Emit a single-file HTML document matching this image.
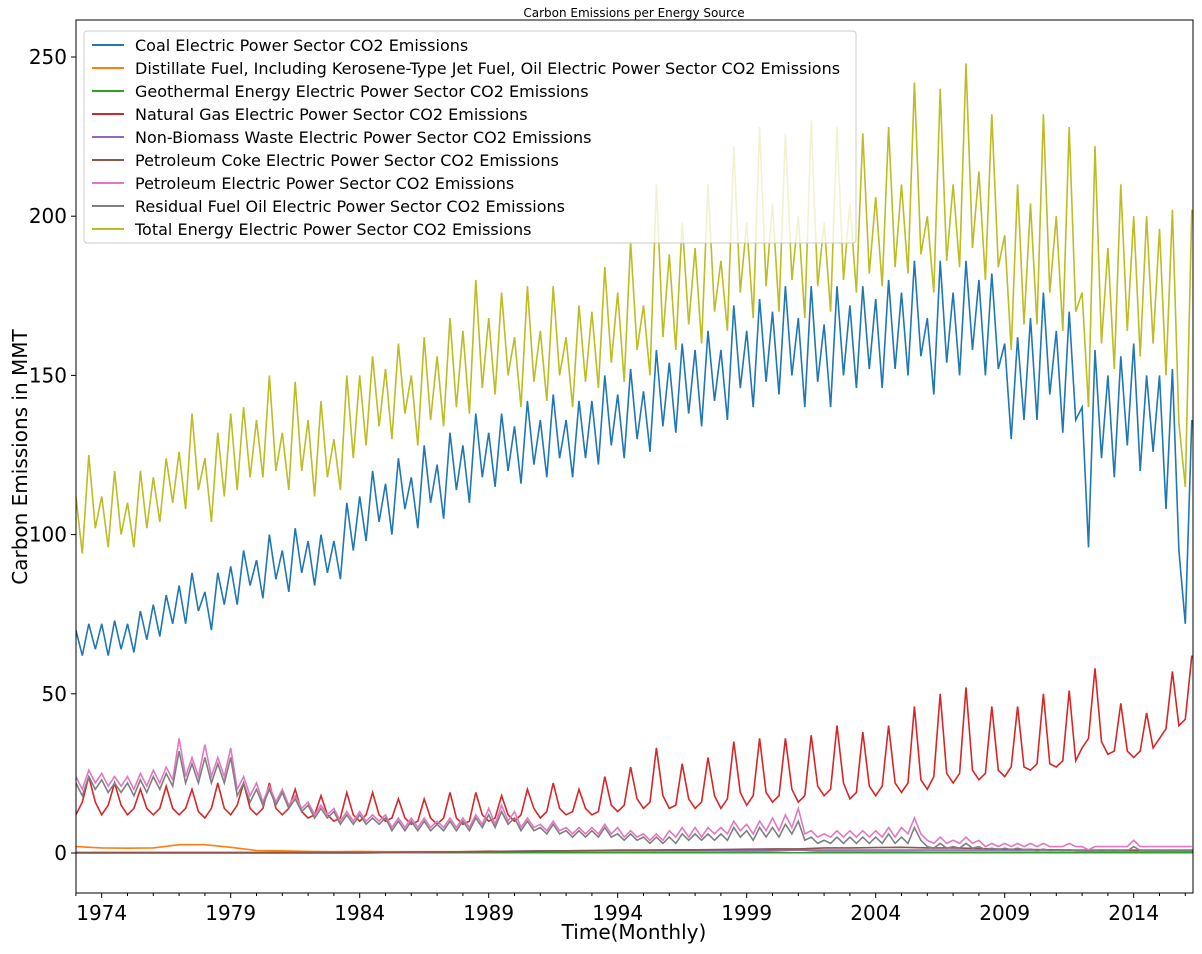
<!DOCTYPE html>
<html><head><meta charset="utf-8"><style>
body{margin:0;background:#fff;}
svg text{font-family:"DejaVu Sans","Liberation Sans",sans-serif;}
</style></head><body>
<svg id="chart" width="1202" height="949" xmlns="http://www.w3.org/2000/svg">
<defs><clipPath id="clip"><rect x="76" y="20" width="1117" height="873"/></clipPath></defs>
<rect width="1202" height="949" fill="#fff"/>
<text x="634" y="17" font-size="12" text-anchor="middle">Carbon Emissions per Energy Source</text>
<g id="series" clip-path="url(#clip)"></g>
<rect x="76" y="20" width="1117" height="873" fill="none" stroke="#000" stroke-width="1"/>
<g id="axes"></g>
<text x="634" y="939" font-size="20" text-anchor="middle">Time(Monthly)</text>
<text transform="translate(27,457) rotate(-90)" font-size="20" text-anchor="middle">Carbon Emissions in MMT</text>
<g id="legend"></g>
</svg>
<script>
// quarterly samples [Jan, Apr, Jul, Oct] per year starting 1973
const startYear = 1973;
const coal = [
70,62,72,64, 72,62,73,64, 72,63,76,67, 78,68,81,72, 84,72,88,76, 82,70,88,78, 90,78,95,84, 92,80,100,86,
95,82,102,88, 98,84,100,88, 98,86,110,95, 112,98,120,104, 116,100,124,108, 118,102,128,110, 122,105,132,114,
128,110,138,118, 132,115,138,120, 134,116,142,122, 136,118,144,124, 136,118,142,124, 142,122,150,128,
144,124,152,130, 145,126,158,134, 154,132,160,138, 158,134,164,142, 158,136,172,146, 164,140,174,148,
170,144,178,150, 168,140,178,148, 166,140,178,150, 172,146,178,152, 174,146,180,152, 176,150,186,156,
168,144,186,154, 176,150,186,158, 180,150,182,152, 160,130,162,136, 168,136,176,144, 164,132,170,136,
140,96,158,124, 150,118,156,128, 160,120,150,126, 150,108,152,95, 72,136];
const total = [
112,94,125,102, 112,96,120,100, 110,96,120,102, 118,104,124,110, 126,108,138,114, 124,104,132,112,
138,114,140,118, 136,118,150,120, 132,114,148,120, 136,112,142,118, 130,114,150,124, 150,128,156,134,
152,130,160,138, 150,128,162,136, 156,134,168,140, 164,138,180,146, 168,144,176,150, 162,140,178,148,
164,142,178,150, 162,140,172,148, 170,146,184,154, 176,148,192,158, 172,150,210,162, 188,158,198,166,
190,160,210,170, 186,164,222,176, 198,168,228,178, 204,170,226,180, 200,168,230,178, 198,170,228,180,
204,176,226,182, 206,178,228,184, 210,182,242,188, 200,176,240,186, 210,184,248,190, 214,180,232,184,
194,158,210,166, 204,166,232,176, 200,164,228,170, 176,140,222,160, 190,152,210,164, 200,156,200,160,
196,150,202,135, 115,202];
const gas = [
12,16,24,16, 12,15,22,15, 12,14,20,14, 12,14,21,14, 12,14,20,13, 11,14,22,14, 12,15,22,14, 12,14,22,14,
12,14,20,13, 11,12,18,12, 10,11,19,12, 10,12,19,12, 10,11,17,11, 9,10,17,11, 9,11,19,11, 9,10,19,12,
10,11,18,12, 10,12,20,14, 11,13,22,14, 12,13,20,14, 12,13,24,15, 13,15,27,17, 14,16,33,18, 14,15,28,17,
14,16,30,18, 14,17,35,19, 15,18,36,19, 16,18,36,20, 16,18,37,21, 18,20,40,22, 17,19,38,21, 18,21,40,22,
19,22,46,23, 20,24,50,25, 22,25,52,26, 23,25,46,26, 24,27,46,27, 26,28,50,28, 27,29,51,29, 33,36,58,35,
31,32,47,32, 30,32,44,33, 36,39,57,40, 42,62];
const petroleum = [
24,20,26,22, 25,21,24,21, 24,20,25,21, 26,22,27,23, 36,24,30,24, 34,24,30,24, 33,20,24,18, 22,16,21,16,
20,15,18,14, 16,12,15,12, 14,10,13,10, 13,10,12,10, 12,8,11,8, 11,8,11,8, 10,8,11,8, 11,8,12,9,
14,9,15,10, 13,8,11,8, 9,7,10,7, 8,6,8,6, 8,6,9,6, 8,5,7,5, 6,4,6,4, 7,5,8,5, 8,5,8,6, 8,6,10,7,
9,6,10,7, 11,7,12,8, 14,6,7,5, 6,5,7,5, 7,5,7,5, 7,5,8,5, 8,6,11,6, 4,3,5,3, 4,3,5,3, 4,2,3,2,
3,2,3,2, 3,2,3,2, 2,2,3,2, 2,1,2,2, 2,2,2,2, 4,2,2,2, 2,2,2,2, 2,2];
const residual = [
22,18,24,20, 23,19,22,19, 22,18,23,19, 24,20,25,21, 32,22,28,22, 30,22,28,22, 30,18,22,16, 20,15,20,15,
19,14,17,13, 15,11,14,11, 13,9,12,9, 12,9,11,9, 11,7,10,7, 10,7,10,7, 9,7,10,7, 10,7,11,8,
12,8,13,9, 11,7,10,7, 8,6,9,6, 7,5,7,5, 7,5,8,5, 6,4,6,4, 5,3,5,3, 5,3,6,4, 6,4,6,4, 6,4,8,5,
7,4,8,5, 8,5,9,6, 10,4,5,3, 4,3,5,3, 5,3,5,3, 5,3,6,3, 5,3,8,4, 2,1.5,3,1.5, 2,1.5,3,1.5, 2,1,1.5,1,
1.5,1,1.5,1, 1.2,0.8,1.2,0.8, 1,0.8,1,0.8, 0.8,0.6,0.8,0.6, 0.8,0.6,0.8,0.6, 2,0.8,0.8,0.6, 0.8,0.6,0.8,0.6, 0.8,0.6];
// annual values (mid-year), starting 1973
const distillate = [2,1.6,1.5,1.6,2.6,2.6,1.8,0.8,0.7,0.5,0.4,0.5,0.4,0.4,0.4,0.4,0.6,0.4,0.3,0.3,0.3,0.3,0.3,0.3,0.3,0.3,0.4,0.6,1,0.4,0.4,0.4,0.4,0.3,0.3,0.3,0.3,0.3,0.3,0.3,0.4,0.5,0.4,0.3];
const coke = [0.2,0.2,0.2,0.2,0.2,0.2,0.2,0.2,0.2,0.2,0.2,0.2,0.2,0.3,0.3,0.3,0.4,0.5,0.6,0.7,0.8,0.9,0.9,1,1,1.1,1.2,1.3,1.3,1.6,1.6,1.7,1.8,1.6,1.6,1.4,1.2,1.1,1,0.8,0.8,0.8,0.7,0.7];
const nonbio = [0,0,0,0,0,0,0,0,0,0,0,0,0.1,0.2,0.3,0.4,0.5,0.6,0.7,0.7,0.8,0.8,0.8,0.8,0.8,0.8,0.8,0.9,0.9,0.9,0.9,0.9,0.9,0.9,0.9,0.9,0.9,0.9,0.9,0.9,0.9,0.9,0.9,0.9];
const geo = [0,0,0,0,0,0,0,0,0,0,0,0,0.1,0.1,0.1,0.1,0.1,0.1,0.1,0.1,0.1,0.1,0.1,0.1,0.1,0.1,0.1,0.1,0.1,0.1,0.1,0.1,0.1,0.1,0.1,0.1,0.1,0.1,0.1,0.1,0.1,0.1,0.1,0.1];
const yTicks = [0,50,100,150,200,250];
const xTickYears = [1974,1979,1984,1989,1994,1999,2004,2009,2014];
const seriesNames = ["Coal Electric Power Sector CO2 Emissions","Distillate Fuel, Including Kerosene-Type Jet Fuel, Oil Electric Power Sector CO2 Emissions","Geothermal Energy Electric Power Sector CO2 Emissions","Natural Gas Electric Power Sector CO2 Emissions","Non-Biomass Waste Electric Power Sector CO2 Emissions","Petroleum Coke Electric Power Sector CO2 Emissions","Petroleum Electric Power Sector CO2 Emissions","Residual Fuel Oil Electric Power Sector CO2 Emissions","Total Energy Electric Power Sector CO2 Emissions"];

const NS="http://www.w3.org/2000/svg";
function xs(t){return 101.7+(t-1974)*25.8;}
function ys(v){return 853-v*3.184;}
const colors=["#1f77b4","#ff7f0e","#2ca02c","#d62728","#9467bd","#8c564b","#e377c2","#7f7f7f","#bcbd22"];
const keys=["coal","distillate","geo","gas","nonbio","coke","petroleum","residual","total"];
const datas=[coal,distillate,geo,gas,nonbio,coke,petroleum,residual,total];
const annual=[false,true,true,false,true,true,false,false,false];
const sg=document.getElementById('series');
datas.forEach((d,k)=>{
  let pts=d.map((v,i)=>{const t=annual[k]?startYear+i:startYear+i*0.25;return xs(t).toFixed(1)+","+ys(v).toFixed(1);});
  if(annual[k]){pts.unshift(xs(startYear-0.5).toFixed(1)+","+ys(d[0]).toFixed(1));pts.push(xs(startYear+d.length+0.5).toFixed(1)+","+ys(d[d.length-1]).toFixed(1));}
  const p=document.createElementNS(NS,'polyline');
  p.setAttribute('points',pts.join(' '));
  p.setAttribute('fill','none');p.setAttribute('stroke',colors[k]);p.setAttribute('stroke-width','1.6');
  
  
  sg.appendChild(p);
});
const ax=document.getElementById('axes');
yTicks.forEach(v=>{
  const l=document.createElementNS(NS,'line');
  l.setAttribute('x1',71);l.setAttribute('x2',76);l.setAttribute('y1',ys(v));l.setAttribute('y2',ys(v));l.setAttribute('stroke','#000');
  
  
  ax.appendChild(l);
  const t=document.createElementNS(NS,'text');
  t.setAttribute('x',67);t.setAttribute('y',ys(v)+7);t.setAttribute('text-anchor','end');t.setAttribute('font-size','20');
  t.textContent=v;
  
  
  ax.appendChild(t);
});
for(let y=1973;y<=2016;y++){
  const major=xTickYears.includes(y);
  const l=document.createElementNS(NS,'line');
  l.setAttribute('x1',xs(y));l.setAttribute('x2',xs(y));l.setAttribute('y1',893);l.setAttribute('y2',major?898:896);l.setAttribute('stroke','#000');
  
  
  ax.appendChild(l);
}
xTickYears.forEach(y=>{
  const t=document.createElementNS(NS,'text');
  t.setAttribute('x',xs(y));t.setAttribute('y',920);t.setAttribute('text-anchor','middle');t.setAttribute('font-size','20');
  t.textContent=y;
  
  
  ax.appendChild(t);
});
const lg=document.getElementById('legend');
const box=document.createElementNS(NS,'rect');
box.setAttribute('x',84);box.setAttribute('y',31);box.setAttribute('width',772);box.setAttribute('height',212);box.setAttribute('rx',3);
box.setAttribute('fill','#fff');box.setAttribute('fill-opacity','0.8');box.setAttribute('stroke','#ccc');


lg.appendChild(box);
seriesNames.forEach((n,i)=>{
  const y=45+i*23;
  const l=document.createElementNS(NS,'line');
  l.setAttribute('x1',92);l.setAttribute('x2',124);l.setAttribute('y1',y);l.setAttribute('y2',y);l.setAttribute('stroke',colors[i]);l.setAttribute('stroke-width','2');
  
  
  lg.appendChild(l);
  const t=document.createElementNS(NS,'text');
  t.setAttribute('x',135);t.setAttribute('y',y+6);t.setAttribute('font-size','16');
  t.textContent=n;
  
  
  lg.appendChild(t);
});
</script>
</body></html>
